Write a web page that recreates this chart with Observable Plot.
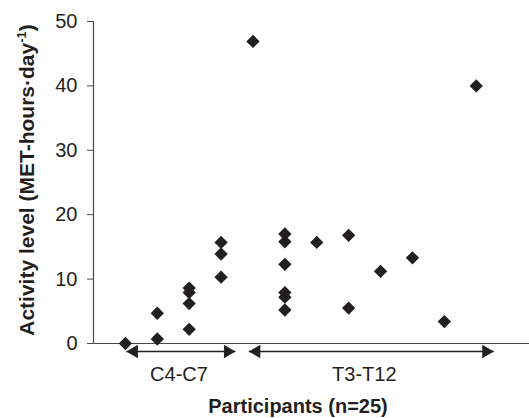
<!DOCTYPE html>
<html>
<head>
<meta charset="utf-8">
<script src="https://cdn.jsdelivr.net/npm/d3@7"></script>
<script src="https://cdn.jsdelivr.net/npm/@observablehq/plot@0.6"></script>
<style>
  html, body { margin: 0; padding: 0; background: #fff; }
</style>
</head>
<body>
<div id="chart"></div>
<script>
// Participant column (x position) and activity level (MET-hours·day-1)
const participantX = [1, 2, 2, 3, 3, 3, 3, 4, 4, 4, 5, 6, 6, 6, 6, 6, 6, 7, 8, 8, 9, 10, 11, 12];
const activity =     [0, 0.7, 4.7, 2.2, 6.2, 7.9, 8.6, 10.3, 13.9, 15.7, 46.9, 5.2, 7.2, 7.9, 12.3, 15.8, 17.0, 15.7, 16.8, 5.5, 11.2, 13.3, 3.4, 40.0];

// Injury-level groups shown as double arrows under the axis
const groups = ["C4-C7", "T3-T12"];
const groupStart = [1.03, 4.87];
const groupEnd = [4.45, 12.55];
const groupLabelX = [2.68, 8.49];

const yTicks = [0, 10, 20, 30, 40, 50];
const yTitle = "Activity level (MET-hours·day";
const yTitleSup = "-1";
const xTitle = "Participants (n=25)";

const points = participantX.map((x, i) => ({x, y: activity[i]}));
const groupRows = groups.map((g, i) => ({g, start: groupStart[i], end: groupEnd[i], lx: groupLabelX[i]}));

const ink = "#231f20";
const axisInk = "#4a4a4a";
const W = 529, H = 418;
const mL = 93, mR = 0, mT = 21, mB = 75;

const chart = Plot.plot({
  width: W,
  height: H,
  marginLeft: mL,
  marginRight: mR,
  marginTop: mT,
  marginBottom: mB,
  style: {fontFamily: "'Liberation Sans', Arial, Helvetica, sans-serif", color: ink, background: "#fff", overflow: "visible"},
  x: {domain: [0, 13.67], axis: null},
  y: {domain: [0, 50], axis: null},
  marks: [
    Plot.ruleX([0], {stroke: axisInk, strokeWidth: 1.2}),
    Plot.ruleY([0], {stroke: axisInk, strokeWidth: 1.2}),
    Plot.axisY({ticks: yTicks, tickSize: 6, tickPadding: 10, fontSize: 20, stroke: axisInk, fill: ink, label: null}),
    Plot.dot(points, {x: "x", y: "y", symbol: "diamond2", r: 6, fill: ink, stroke: "none"}),
    Plot.link(groupRows, {x1: "start", x2: "end", y1: 0, y2: 0, dy: 8, stroke: ink, strokeWidth: 1.6}),
    Plot.dot(groupRows, {x: "start", y: 0, symbol: "triangle", rotate: -90, r: 4.93, dx: 7.67, dy: 8, fill: ink, stroke: "none"}),
    Plot.dot(groupRows, {x: "end", y: 0, symbol: "triangle", rotate: 90, r: 4.93, dx: -7.67, dy: 8, fill: ink, stroke: "none"}),
    Plot.text(groupRows, {x: "lx", y: 0, text: "g", dy: 37.3, lineAnchor: "bottom", fontSize: 20, fill: ink})
  ]
});

const svg = d3.select(chart);
// y-axis title with superscript
const yt = svg.append("text")
  .attr("transform", "translate(34,180) rotate(-90)")
  .attr("text-anchor", "middle")
  .attr("font-size", 21)
  .attr("font-weight", "bold")
  .attr("fill", ink);
yt.append("tspan").text(yTitle);
yt.append("tspan").text(yTitleSup).attr("font-size", 13).attr("dy", "-0.6em");
yt.append("tspan").text(")").attr("dy", "0.39em");

// x-axis title
svg.append("text")
  .attr("x", 298)
  .attr("y", 413)
  .attr("text-anchor", "middle")
  .attr("font-size", 20)
  .attr("font-weight", "bold")
  .attr("fill", ink)
  .text(xTitle);

document.getElementById("chart").appendChild(chart);
</script>
</body>
</html>
